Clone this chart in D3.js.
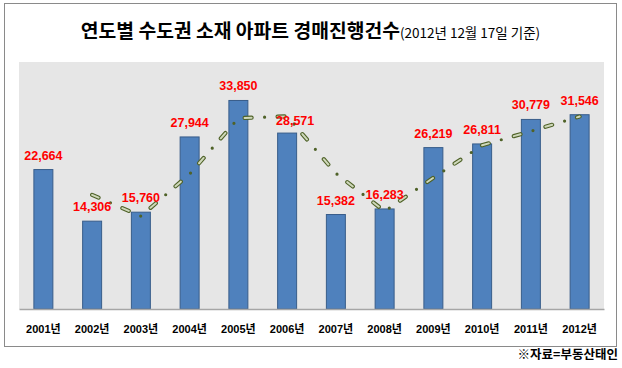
<!DOCTYPE html>
<html><head><meta charset="utf-8">
<script src="https://cdn.jsdelivr.net/npm/d3@7"></script>
<style>
html,body{margin:0;padding:0;background:#fff;}
svg{display:block;}
</style></head>
<body>
<svg id="chart" width="622" height="368"></svg>
<script>
const years = ["2001년","2002년","2003년","2004년","2005년","2006년","2007년","2008년","2009년","2010년","2011년","2012년"];
const counts = [22664,14306,15760,27944,33850,28571,15382,16283,26219,26811,30779,31546];
// trend line (2-period moving average) values, 2002..2012
const trendYears = ["2002년","2003년","2004년","2005년","2006년","2007년","2008년","2009년","2010년","2011년","2012년"];
const trendValues = [18485,15033,21852,30897,31210,21976,15832,21251,26515,28795,31162];
const titleMain = "연도별 수도권 소재 아파트 경매진행건수";
const titleSub = "(2012년 12월 17일 기준)";
const sourceText = "※자료=부동산태인";

const svg = d3.select("#chart");
svg.append("rect").attr("width",622).attr("height",368).attr("fill","#fff");
svg.append("rect").attr("x",4.5).attr("y",3.5).attr("width",612).attr("height",343)
  .attr("fill","#fff").attr("stroke","#8a8a8a").attr("stroke-width",1);

const plot = {left:19, right:604, top:62, bottom:309};
svg.append("rect").attr("x",plot.left).attr("y",plot.top)
  .attr("width",plot.right-plot.left).attr("height",plot.bottom-plot.top).attr("fill","#e6e6e6");

const x = d3.scaleBand().domain(years).range([plot.left,plot.right]).paddingInner(0.59).paddingOuter(0.295);
const y = d3.scaleLinear().domain([0,40000]).range([plot.bottom,plot.top]);

// bars
svg.append("g").selectAll("rect").data(counts).join("rect")
  .attr("x",(d,i)=>x(years[i])+0.5)
  .attr("y",d=>y(d)+0.5)
  .attr("width",x.bandwidth()-1)
  .attr("height",d=>plot.bottom-y(d)-0.5)
  .attr("fill","#4f81bd").attr("stroke","#385d8a").attr("stroke-width",1);

// axis
const xAxis = d3.axisBottom(x).tickSize(0).tickPadding(0);
const gx = svg.append("g").attr("transform",`translate(0,${plot.bottom})`).call(xAxis);
gx.select(".domain").attr("stroke","#a6a6a6").attr("stroke-width",1.5);
gx.selectAll(".tick text").attr("y",0).attr("dy","23.5px")
  .attr("font-family","'Liberation Sans','Noto Sans CJK KR',sans-serif")
  .attr("font-size","11px").attr("font-weight","bold").attr("fill","#000");

// trend line
const line = d3.line().x((d,i)=>x(trendYears[i])+x.bandwidth()/2).y(d=>y(d));
const tg = svg.append("g");
tg.append("path").datum(trendValues).attr("d",line).attr("fill","none")
  .attr("stroke","#4f6228").attr("stroke-width",4.2).attr("stroke-linecap","round")
  .attr("stroke-dasharray","7 26");
tg.append("path").datum(trendValues).attr("d",line).attr("fill","none")
  .attr("stroke","#cfd8bb").attr("stroke-width",2).attr("stroke-linecap","round")
  .attr("stroke-dasharray","7 26");
tg.append("path").datum(trendValues).attr("d",line).attr("fill","none")
  .attr("stroke","#4f6228").attr("stroke-width",3.2).attr("stroke-linecap","round")
  .attr("stroke-dasharray","0 33").attr("stroke-dashoffset",13);

// value labels
const labelShift = {5:[8,1.5]};
svg.append("g").selectAll("text").data(counts).join("text")
  .attr("x",(d,i)=>x(years[i])+x.bandwidth()/2+(labelShift[i]?labelShift[i][0]:0))
  .attr("y",(d,i)=>y(d)-9.5+(labelShift[i]?labelShift[i][1]:0))
  .attr("text-anchor","middle")
  .attr("font-family","'Liberation Sans',sans-serif").attr("font-size","12.5px")
  .attr("font-weight","bold").attr("fill","#ff0000")
  .text(d=>d3.format(",")(d));

// title
const t = svg.append("text").attr("x",310.5).attr("y",38).attr("text-anchor","middle")
  .attr("font-family","'Noto Sans CJK KR',sans-serif").attr("fill","#000");
t.append("tspan").attr("font-size","19.3px").attr("font-weight","bold").text(titleMain);
t.append("tspan").attr("font-size","13.5px").attr("font-weight","normal").text(titleSub);

// source
svg.append("text").attr("x",618).attr("y",359).attr("text-anchor","end")
  .attr("font-family","'Noto Sans CJK KR',sans-serif").attr("font-size","12.5px")
  .attr("font-weight","bold").attr("fill","#000").text(sourceText);
</script>
</body></html>
